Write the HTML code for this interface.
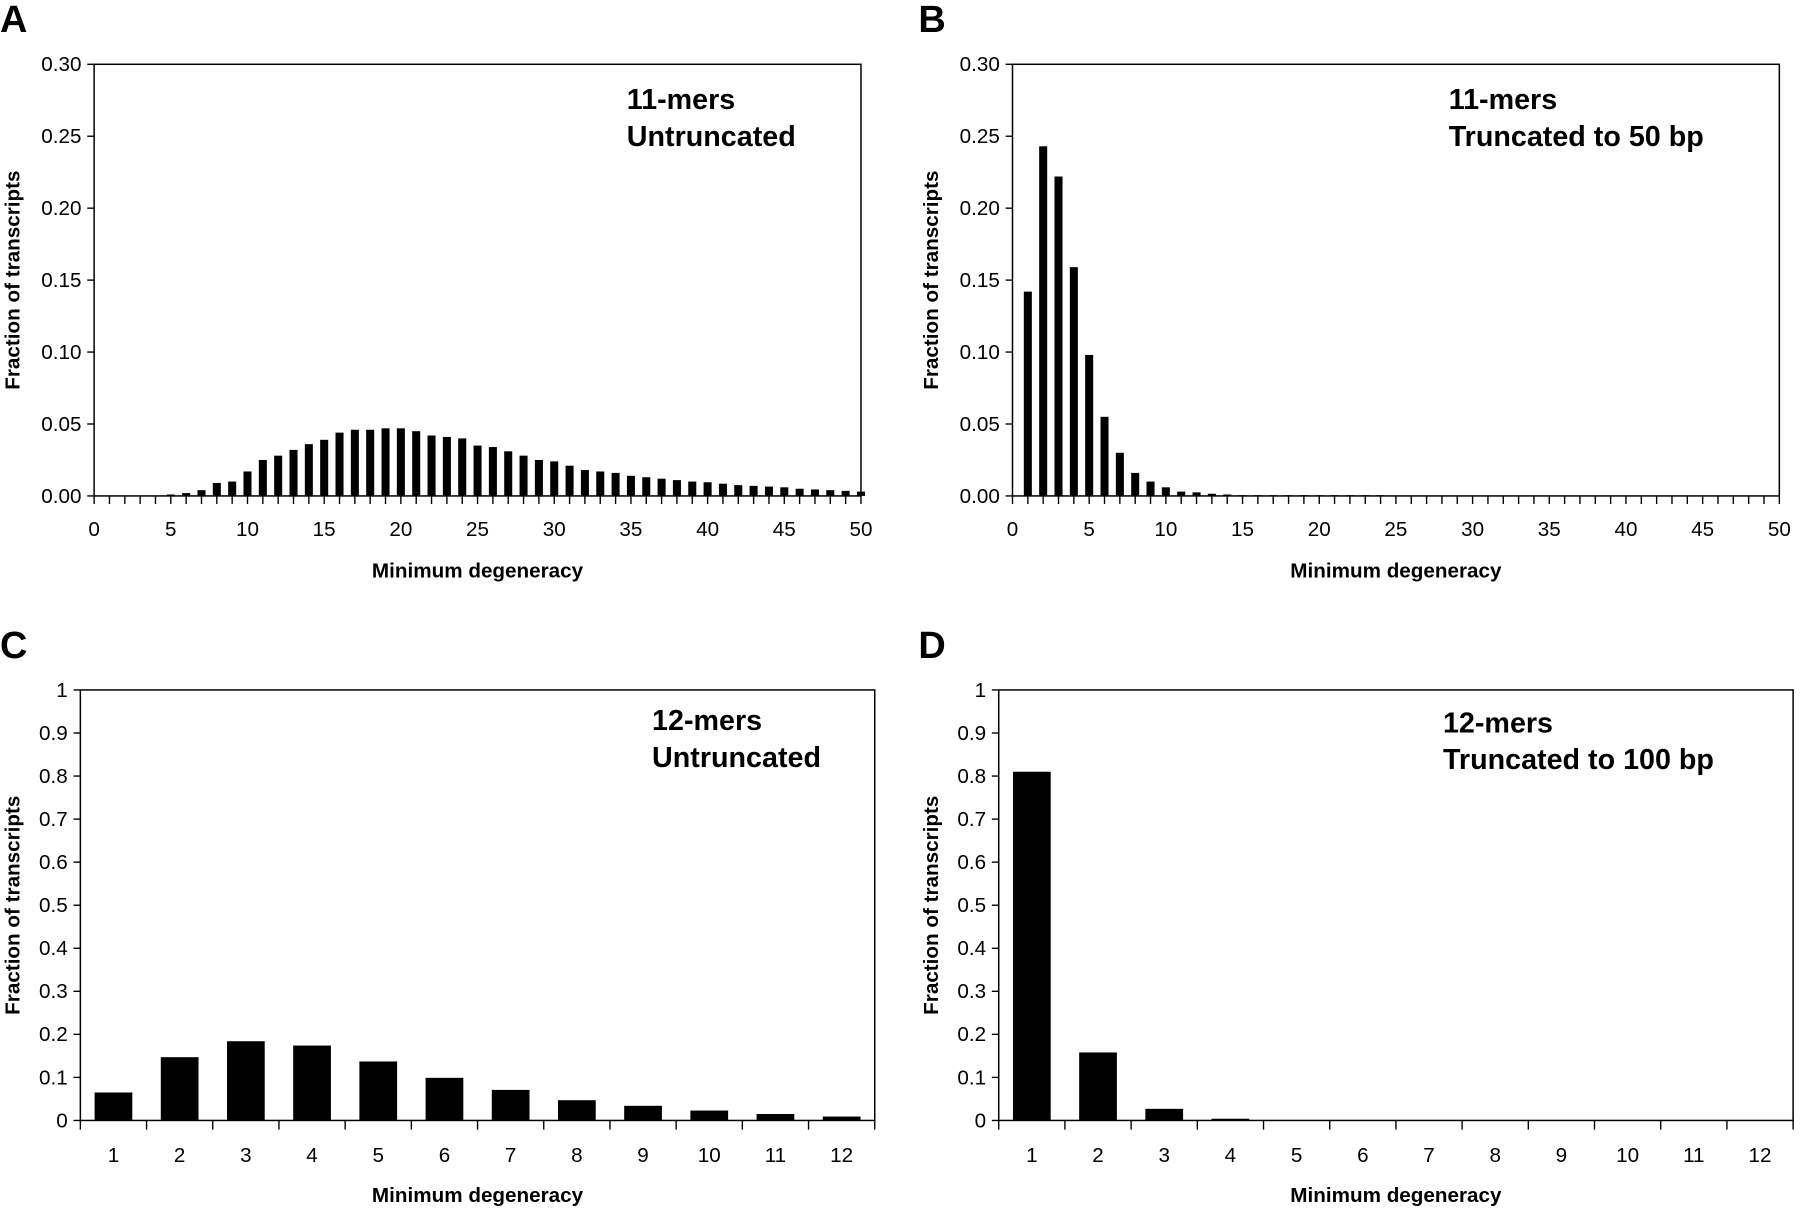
<!DOCTYPE html>
<html><head><meta charset="utf-8"><style>
html,body{margin:0;padding:0;background:#fff;}
svg{display:block;}
text{font-family:"Liberation Sans",sans-serif;fill:#000;}
</style></head><body>
<svg id="fig" width="1800" height="1210" viewBox="0 0 1568 1054" preserveAspectRatio="none" xmlns="http://www.w3.org/2000/svg"></svg>
<script>
const degA = Array.from({length:50},(_, i)=>i+1);
const valsA = [0,0,0,0,0.001,0.002,0.004,0.009,0.010,0.017,0.025,0.028,0.032,0.036,0.039,0.044,0.046,0.046,0.047,0.047,0.045,0.042,0.041,0.040,0.035,0.034,0.031,0.028,0.025,0.024,0.021,0.018,0.017,0.016,0.014,0.013,0.012,0.011,0.010,0.0095,0.0085,0.0075,0.007,0.0065,0.006,0.005,0.0045,0.004,0.0035,0.003];
const valsB = [0.142,0.243,0.222,0.159,0.098,0.055,0.030,0.016,0.010,0.006,0.003,0.0025,0.0015,0.001,0.0005,0.0005,0.0005,0.0005,0.0005,0.0005,0.0005,0.0005,0.0005,0.0005,0,0,0,0,0,0,0,0,0,0,0,0,0,0,0,0,0,0,0,0,0,0,0,0,0,0];
const ticksAB = ["0.00","0.05","0.10","0.15","0.20","0.25","0.30"];
const xTicksAB = ["0","5","10","15","20","25","30","35","40","45","50"];
const catsCD = ["1","2","3","4","5","6","7","8","9","10","11","12"];
const valsC = [0.065,0.147,0.184,0.174,0.137,0.099,0.071,0.047,0.034,0.023,0.015,0.009];
const valsD = [0.81,0.158,0.027,0.004,0.001,0.0005,0,0,0,0,0,0];
const ticksCD = ["0","0.1","0.2","0.3","0.4","0.5","0.6","0.7","0.8","0.9","1"];

const NS="http://www.w3.org/2000/svg";
const svg=document.getElementById('fig');
function mk(tag,attrs,parent,txt){const e=document.createElementNS(NS,tag);for(const k in attrs)e.setAttribute(k,attrs[k]);if(txt!==undefined)e.textContent=txt;(parent||svg).appendChild(e);return e;}

function panel(p){
  const g=mk('g',{});
  
  
  const L=mk('text',{x:p.left-p.letterDx,y:p.top-28,'font-size':33,'font-weight':'bold'},g,p.id);
  
  
  const W=p.right-p.left,H=p.bottom-p.top;
  const ys=v=>p.bottom-v/p.ymax*H;
  const box=mk('rect',{x:p.left,y:p.top,width:W,height:H,fill:'none',stroke:'#000','stroke-width':1.3},g);
  
  
  p.yTicks.forEach((t,i)=>{
    const v=i*p.ymax/(p.yTicks.length-1);const y=ys(v);
    mk('line',{x1:p.left-6,x2:p.left,y1:y,y2:y,stroke:'#000','stroke-width':1.2},g);
    const tl=mk('text',{x:p.left-11,y:y+6,'font-size':18,'text-anchor':'end'},g,t);
    
    
  });
  if(p.type==='num'){
    const xs=v=>p.left+v/50*W;
    for(let i=0;i<=50;i++){mk('line',{x1:xs(i),x2:xs(i),y1:p.bottom,y2:p.bottom+7,stroke:'#000','stroke-width':1.2},g);}
    p.xTicks.forEach(t=>{
      const tl=mk('text',{x:xs(+t),y:p.bottom+35,'font-size':18,'text-anchor':'middle'},g,t);
      
      
    });
    p.vals.forEach((v,i)=>{
      const cx=xs(degA[i]);const bw=7;
      const r=mk('rect',{x:cx-bw/2,y:ys(v),width:bw,height:p.bottom-ys(v),fill:'#000'},g);
      
      
    });
  } else {
    const n=p.cats.length,cw=W/n;
    for(let i=0;i<=n;i++){mk('line',{x1:p.left+i*cw,x2:p.left+i*cw,y1:p.bottom,y2:p.bottom+8,stroke:'#000','stroke-width':1.2},g);}
    p.cats.forEach((c,i)=>{
      const tl=mk('text',{x:p.left+(i+0.5)*cw,y:p.bottom+36,'font-size':18,'text-anchor':'middle'},g,c);
      
      
    });
    p.vals.forEach((v,i)=>{
      const bw=cw*0.57;const cx=p.left+(i+0.5)*cw;
      const r=mk('rect',{x:cx-bw/2,y:ys(v),width:bw,height:p.bottom-ys(v),fill:'#000'},g);
      
      
    });
  }
  const xt=mk('text',{x:(p.left+p.right)/2,y:p.bottom+71,'font-size':18,'font-weight':'bold','text-anchor':'middle'},g,'Minimum degeneracy');
  
  
  const cy=(p.top+p.bottom)/2;const tx=p.left-p.ytitleDx;
  const yt=mk('text',{x:tx,y:cy,'font-size':18,'font-weight':'bold','text-anchor':'middle',transform:`rotate(-90 ${tx} ${cy})`},g,'Fraction of transcripts');
  
  
  p.ann.forEach((a,i)=>{
    const t=mk('text',{x:p.annX,y:p.annY+i*32,'font-size':25,'font-weight':'bold'},g,a);
    
    
  });
}
panel({id:'A',left:82,right:750,top:56,bottom:432,ymax:0.30,yTicks:ticksAB,xTicks:xTicksAB,type:'num',vals:valsA,ann:['11-mers','Untruncated'],annX:546,annY:95,letterDx:82,ytitleDx:65});
panel({id:'B',left:882,right:1550,top:56,bottom:432,ymax:0.30,yTicks:ticksAB,xTicks:xTicksAB,type:'num',vals:valsB,ann:['11-mers','Truncated to 50 bp'],annX:1262,annY:95,letterDx:82,ytitleDx:65});
panel({id:'C',left:70,right:762,top:601,bottom:976,ymax:1,yTicks:ticksCD,type:'cat',cats:catsCD,vals:valsC,ann:['12-mers','Untruncated'],annX:568,annY:636,letterDx:70,ytitleDx:53});
panel({id:'D',left:870,right:1562,top:601,bottom:976,ymax:1,yTicks:ticksCD,type:'cat',cats:catsCD,vals:valsD,ann:['12-mers','Truncated to 100 bp'],annX:1257,annY:638,letterDx:70,ytitleDx:53});
</script>
</body></html>
